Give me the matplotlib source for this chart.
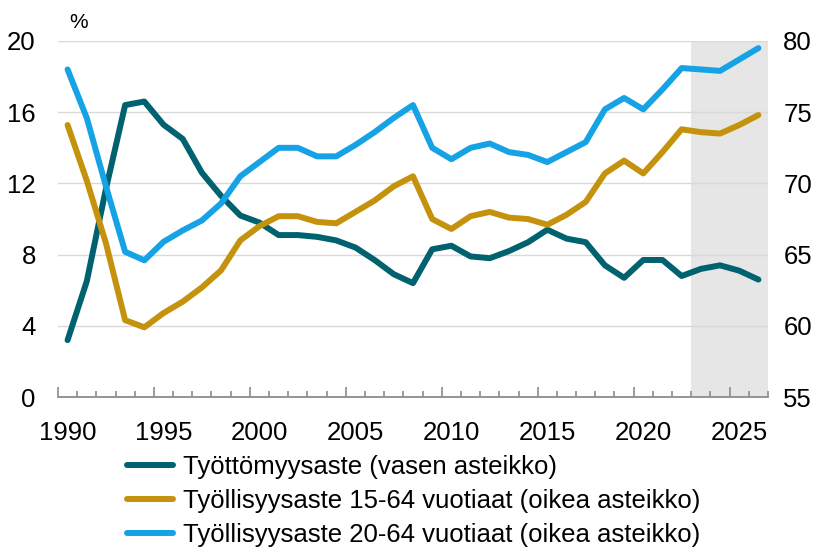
import numpy as np
import matplotlib.pyplot as plt

plt.rcParams['font.family'] = ['Liberation Sans', 'DejaVu Sans']

years = list(range(1990, 2027))

# Työttömyysaste, % (vasen asteikko)
unemployment = [3.2, 6.5, 11.7, 16.4, 16.6, 15.3, 14.5, 12.6, 11.3, 10.2,
                9.8, 9.1, 9.1, 9.0, 8.8, 8.4, 7.7, 6.9, 6.4, 8.3,
                8.5, 7.9, 7.8, 8.2, 8.7, 9.4, 8.9, 8.7, 7.4, 6.7,
                7.7, 7.7, 6.8, 7.2, 7.4, 7.1, 6.6]

# Työllisyysaste 15-64 v, % (oikea asteikko)
emp_15_64 = [74.1, 70.2, 65.8, 60.4, 59.9, 60.9, 61.7, 62.7, 63.9, 66.0,
             67.0, 67.7, 67.7, 67.3, 67.2, 68.0, 68.8, 69.8, 70.5, 67.5,
             66.8, 67.7, 68.0, 67.6, 67.5, 67.1, 67.8, 68.7, 70.7, 71.6,
             70.7, 72.2, 73.8, 73.6, 73.5, 74.1, 74.8]

# Työllisyysaste 20-64 v, % (oikea asteikko)
emp_20_64 = [78.0, 74.6, 69.8, 65.2, 64.6, 65.9, 66.7, 67.4, 68.6, 70.5,
             71.5, 72.5, 72.5, 71.9, 71.9, 72.7, 73.6, 74.6, 75.5, 72.5,
             71.7, 72.5, 72.8, 72.2, 72.0, 71.5, 72.2, 72.9, 75.2, 76.0,
             75.2, 76.6, 78.1, 78.0, 77.9, 78.7, 79.5]

forecast_start = 2022.5
label_years = [1990, 1995, 2000, 2005, 2010, 2015, 2020, 2025]

teal = '#00626e'
gold = '#c4920c'
blue = '#15a3e6'
fs = 18.5

fig = plt.figure(figsize=(8.2, 5.5), dpi=100)
ax = fig.add_axes([0.0707, 0.278, 0.8659, 0.6475])
ax2 = ax.twinx()

ax.axvspan(forecast_start, 2026.5, color='#e6e6e6', lw=0, zorder=0)

line_kw = dict(lw=4.3, solid_capstyle='round', solid_joinstyle='round')
l1, = ax.plot(years, unemployment, color=teal, zorder=5, **line_kw)
l2, = ax2.plot(years, emp_15_64, color=gold, **line_kw)
l3, = ax2.plot(years, emp_20_64, color=blue, **line_kw)

ax.set_xlim(1989.5, 2026.5)
ax.set_ylim(0, 20)
ax2.set_ylim(55, 80)
ax.set_yticks(np.arange(0, 21, 4))
ax2.set_yticks(np.arange(55, 81, 5))
ax.grid(axis='y', color='#d9d9d9', lw=1)
ax.set_axisbelow(True)
ax.set_zorder(ax2.get_zorder() - 1)
ax.patch.set_visible(False)
ax2.patch.set_visible(False)

for a in (ax, ax2):
    for s in ('top', 'left', 'right', 'bottom'):
        a.spines[s].set_visible(False)
ax.spines['bottom'].set_visible(True)
ax.spines['bottom'].set_color('#8c8c8c')
ax.spines['bottom'].set_linewidth(1.3)
ax.spines['bottom'].set_zorder(6)

ax.tick_params(axis='y', length=0, labelsize=fs, pad=16)
ax2.tick_params(axis='y', length=0, labelsize=fs, pad=11)

# tick marks between years, labels at year centres
bounds = np.arange(1989.5, 2027, 1)
ax.set_xticks(bounds[::5])
ax.set_xticks(bounds, minor=True)
ax.set_xticklabels([])
ax.tick_params(axis='x', which='major', direction='in', length=7, width=1.2, color='#8c8c8c')
ax.tick_params(axis='x', which='minor', direction='in', length=4, width=1.2, color='#8c8c8c')
sec = ax.secondary_xaxis('bottom')
sec.set_xticks(label_years)
sec.tick_params(length=0, labelsize=fs, pad=17)
sec.spines['bottom'].set_visible(False)

fig.text(0.085, 0.96, '%', fontsize=15, ha='left', va='center')

fig.legend([l1, l2, l3],
           ['Työttömyysaste (vasen asteikko)',
            'Työllisyysaste 15-64 vuotiaat (oikea asteikko)',
            'Työllisyysaste 20-64 vuotiaat (oikea asteikko)'],
           loc='upper left', bbox_to_anchor=(0.155, 0.173), frameon=False,
           fontsize=18.5, borderpad=0, borderaxespad=0, handlelength=1.8,
           handletextpad=0.39, labelspacing=0.4)

fig.savefig('out.png', dpi=100)
